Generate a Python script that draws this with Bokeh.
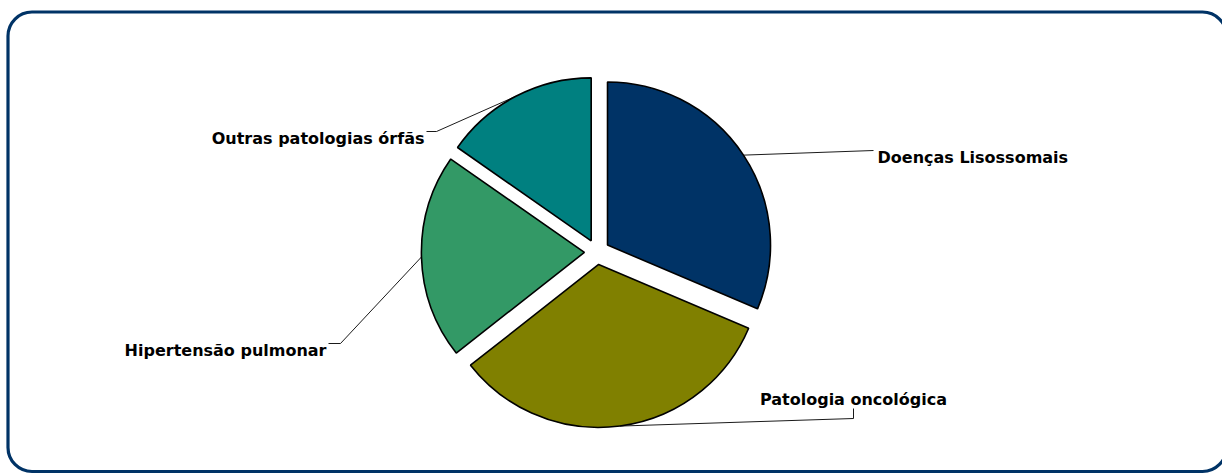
import math
from bokeh.plotting import figure
from bokeh.models import Range1d, BoxAnnotation, ColumnDataSource
from bokeh.core.properties import value
from bokeh.embed import file_html
from bokeh.resources import INLINE

# ---- data ----
categories = ["Doenças Lisossomais", "Patologia oncológica", "Hipertensão pulmonar", "Outras patologias órfãs"]
shares = [31.4, 33.0, 20.3, 15.3]
colors = ["#003366", "#808000", "#339966", "#008080"]

# ---- layout (canvas pixels; positions given from the top, converted to y-up) ----
W, H = 1222, 475
CX, CY = 596.5, H - 251.5
R = 163
EXPLODE = 12.6
FONT = "16px"

# label anchor (x, baseline y from top), alignment
label_pos = [(877, 157, "left"), (853, 399, "center"), (326, 350, "right"), (424, 138, "right")]
# leader elbow points (from top)
elbows = [
    [(873, 150)],
    [(853, 418), (853, 408)],
    [(340, 343), (328, 343)],
    [(436, 131), (426, 131)],
]

p = figure(width=W, height=H, output_backend="svg", toolbar_location=None,
           x_range=Range1d(0, W), y_range=Range1d(0, H), min_border=0)
p.axis.visible = False
p.grid.visible = False
p.outline_line_color = None
p.background_fill_color = "white"
p.border_fill_color = "white"

total = sum(shares)
cum = 0.0
xs, ys, starts, ends, mids = [], [], [], [], []
for s in shares:
    a0 = math.pi / 2 - cum / total * 2 * math.pi
    cum += s
    a1 = math.pi / 2 - cum / total * 2 * math.pi
    m = (a0 + a1) / 2
    xs.append(CX + EXPLODE * math.cos(m))
    ys.append(CY + EXPLODE * math.sin(m))
    starts.append(a0)
    ends.append(a1)
    mids.append(m)

src = ColumnDataSource(dict(x=xs, y=ys, start=starts, end=ends, color=colors, name=categories))
p.wedge(x="x", y="y", radius=R, start_angle="start", end_angle="end", direction="clock",
        fill_color="color", line_color="black", line_width=1.6, source=src)

# leader lines
for i in range(len(categories)):
    ax = xs[i] + R * math.cos(mids[i])
    ay = ys[i] + R * math.sin(mids[i])
    lx = [ax] + [e[0] for e in elbows[i]]
    ly = [ay] + [H - e[1] for e in elbows[i]]
    p.line(lx, ly, line_color="black", line_width=0.9)

# labels
for i, name in enumerate(categories):
    lx, ly, al = label_pos[i]
    p.text(x=[lx], y=[H - ly], text=[name], text_align=al, text_baseline="alphabetic",
           text_font=value("DejaVu Sans"), text_font_style="bold", text_font_size=FONT,
           text_color="black")

# rounded frame
frame = BoxAnnotation(left=7.5, right=W + 4, top=H - 11.5, bottom=H - 471,
                      fill_alpha=0, line_color="#003366", line_alpha=1.0,
                      line_width=3.2, border_radius=24)
p.add_layout(frame)

open("out.html", "w").write(file_html(p, INLINE))
